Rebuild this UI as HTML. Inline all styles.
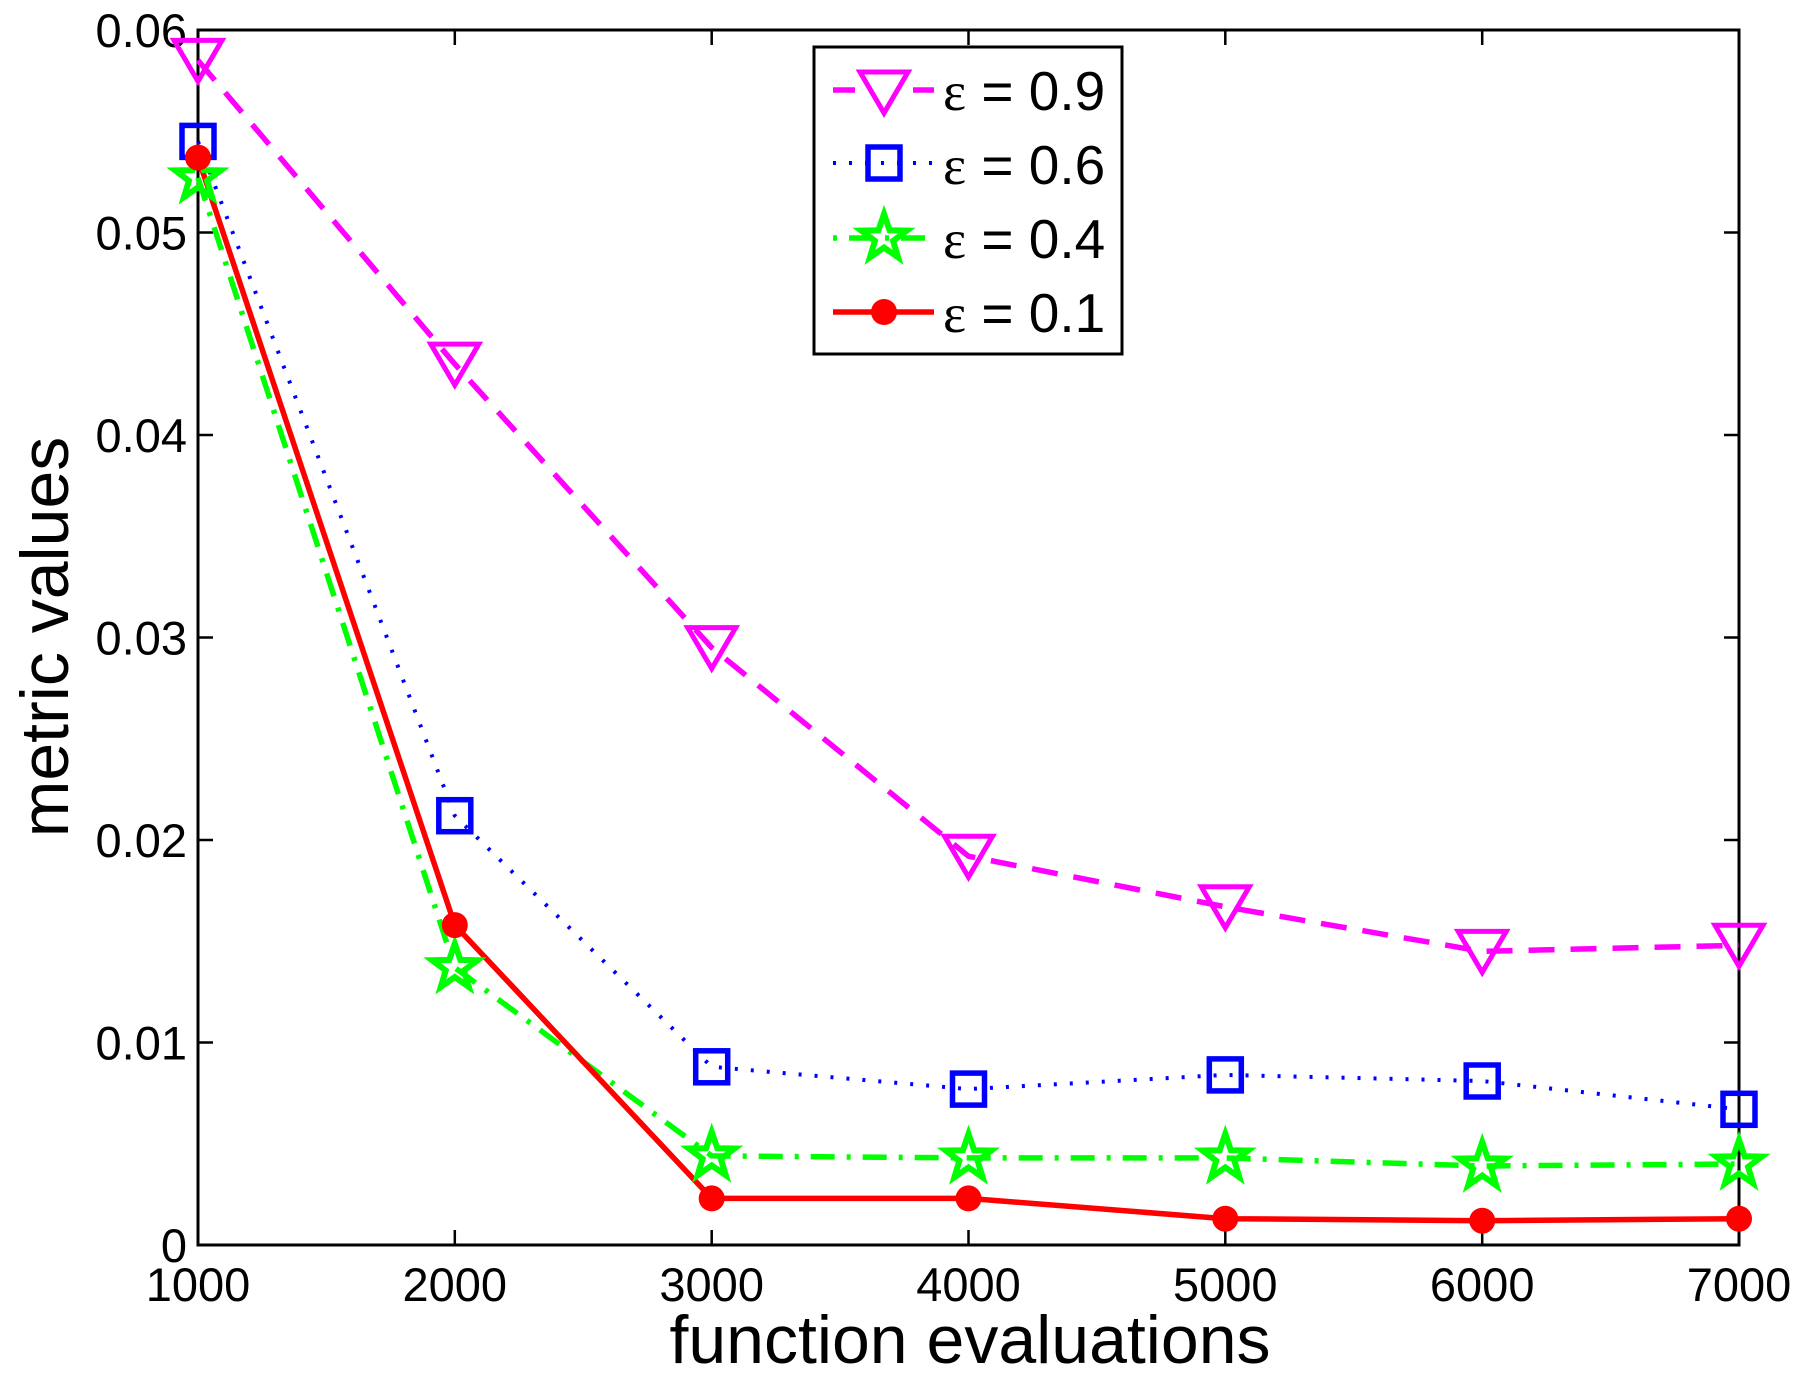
<!DOCTYPE html>
<html><head><meta charset="utf-8"><style>body{margin:0;background:#fff}svg{display:block}</style></head>
<body>
<svg width="1804" height="1385" xmlns="http://www.w3.org/2000/svg" font-family="Liberation Sans, sans-serif">
<defs>
<path id="tri" d="M-24,-20 L24,-20 L0,21 Z" fill="none" stroke="#f0f" stroke-width="5"/>
<rect id="sq" x="-16" y="-16" width="32" height="32" fill="none" stroke="#00f" stroke-width="5.5"/>
<path id="star" d="M0,-24 L5.6,-7.7 L22.8,-7.4 L9.1,2.9 L14.1,19.4 L0,9.5 L-14.1,19.4 L-9.1,2.9 L-22.8,-7.4 L-5.6,-7.7 Z" fill="none" stroke="#0f0" stroke-width="6"/>
<circle id="dot" r="13" fill="#f00"/>
</defs>
<rect x="198" y="30" width="1541" height="1215" fill="none" stroke="#000" stroke-width="3"/>
<g stroke="#000" stroke-width="2.5">
<path d="M454.8,1245v-15M711.7,1245v-15M968.5,1245v-15M1225.3,1245v-15M1482.2,1245v-15M454.8,30v15M711.7,30v15M968.5,30v15M1225.3,30v15M1482.2,30v15"/>
<path d="M198,1042.5h15M198,840h15M198,637.5h15M198,435h15M198,232.5h15M1739,1042.5h-15M1739,840h-15M1739,637.5h-15M1739,435h-15M1739,232.5h-15"/>
</g>
<g font-size="47" text-anchor="end" fill="#000">
<text x="187" y="1262">0</text><text x="187" y="1059.5">0.01</text><text x="187" y="857">0.02</text>
<text x="187" y="654.5">0.03</text><text x="187" y="452">0.04</text><text x="187" y="249.5">0.05</text><text x="187" y="47">0.06</text>
</g>
<g font-size="47" text-anchor="middle" fill="#000">
<text x="198" y="1301">1000</text><text x="454.8" y="1301">2000</text><text x="711.7" y="1301">3000</text><text x="968.5" y="1301">4000</text>
<text x="1225.3" y="1301">5000</text><text x="1482.2" y="1301">6000</text><text x="1739" y="1301">7000</text>
</g>
<text x="970" y="1363" font-size="68" text-anchor="middle">function evaluations</text>
<text transform="translate(68,637) rotate(-90)" font-size="68" text-anchor="middle">metric values</text>
<g fill="none" stroke-width="5.5">
<polyline stroke="#f0f" stroke-dasharray="26,16" points="198,60.4 454.8,364.1 711.7,647.6 968.5,856.2 1225.3,906.8 1482.2,951.4 1739,945.3"/>
<polyline stroke="#00f" stroke-width="4" stroke-dasharray="3,13" points="198,141.4 454.8,815.7 711.7,1066.8 968.5,1089.1 1225.3,1074.9 1482.2,1081 1739,1109.3"/>
<polyline stroke="#0f0" stroke-dasharray="24,12,4,12" points="198,177.8 454.8,967.6 711.7,1155.9 968.5,1157.9 1225.3,1157.9 1482.2,1166 1739,1164"/>
<polyline stroke="#f00" points="198,157.6 454.8,925.1 711.7,1198.4 968.5,1198.4 1225.3,1218.7 1482.2,1220.7 1739,1218.7"/>
</g>
<g>
<use href="#tri" x="198" y="60.4"/><use href="#tri" x="454.8" y="364.1"/><use href="#tri" x="711.7" y="647.6"/><use href="#tri" x="968.5" y="856.2"/><use href="#tri" x="1225.3" y="906.8"/><use href="#tri" x="1482.2" y="951.4"/><use href="#tri" x="1739" y="945.3"/>
<use href="#sq" x="198" y="141.4"/><use href="#sq" x="454.8" y="815.7"/><use href="#sq" x="711.7" y="1066.8"/><use href="#sq" x="968.5" y="1089.1"/><use href="#sq" x="1225.3" y="1074.9"/><use href="#sq" x="1482.2" y="1081"/><use href="#sq" x="1739" y="1109.3"/>
<use href="#star" x="198" y="177.8"/><use href="#star" x="454.8" y="967.6"/><use href="#star" x="711.7" y="1155.9"/><use href="#star" x="968.5" y="1157.9"/><use href="#star" x="1225.3" y="1157.9"/><use href="#star" x="1482.2" y="1166"/><use href="#star" x="1739" y="1164"/>
<use href="#dot" x="198" y="157.6"/><use href="#dot" x="454.8" y="925.1"/><use href="#dot" x="711.7" y="1198.4"/><use href="#dot" x="968.5" y="1198.4"/><use href="#dot" x="1225.3" y="1218.7"/><use href="#dot" x="1482.2" y="1220.7"/><use href="#dot" x="1739" y="1218.7"/>
</g>
<rect x="814" y="47" width="308" height="307" fill="#fff" stroke="#000" stroke-width="3"/>
<g fill="none" stroke-width="5.5">
<path d="M833,90H934" stroke="#f0f" stroke-dasharray="22,58"/>
<path d="M833,163H934" stroke="#00f" stroke-width="4" stroke-dasharray="3,13"/>
<path d="M833,238H934" stroke="#0f0" stroke-dasharray="4,12,24,12"/>
<path d="M833,312H934" stroke="#f00"/>
</g>
<use href="#tri" x="884" y="92"/><use href="#sq" x="884" y="163"/><use href="#star" x="884" y="238"/><use href="#dot" x="884" y="312"/>
<g font-size="55" fill="#000">
<text x="943" y="110"><tspan font-family="Liberation Serif, serif">ε</tspan> = 0.9</text>
<text x="943" y="184"><tspan font-family="Liberation Serif, serif">ε</tspan> = 0.6</text>
<text x="943" y="258"><tspan font-family="Liberation Serif, serif">ε</tspan> = 0.4</text>
<text x="943" y="332"><tspan font-family="Liberation Serif, serif">ε</tspan> = 0.1</text>
</g>
</svg>
</body></html>
